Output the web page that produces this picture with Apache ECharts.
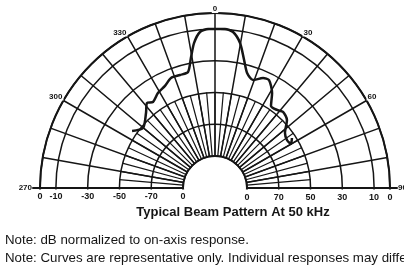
<!DOCTYPE html>
<html>
<head>
<meta charset="utf-8">
<script src="https://cdn.jsdelivr.net/npm/echarts@6/dist/echarts.min.js"></script>
<style>html,body{margin:0;padding:0;background:#fff}#main{width:404px;height:271px}</style>
</head>
<body>
<div id="main"></div>
<script>
// beam pattern: angle (deg, 0 = on-axis) and level (dB)
var angles = [-55.5, -50.2, -42.6, -38.7, -35.8, -31.0, -26.1, -21.8, -17.2, -13.1, -10.5, -8.2, -5.5, -2.5, 0, 3.6, 6.6, 9.8, 12.8, 15.6, 19.4, 23.6, 26.6, 31.0, 34.3, 38.5, 41.8, 46.6, 51.8, 56.3, 59.9, 57.0];
var levels = [-46.8, -51.2, -46.0, -41.6, -43.4, -40.4, -38.6, -35.6, -35.7, -35.2, -26.9, -17.9, -11.5, -10.0, -10.1, -9.9, -11.3, -17.5, -27.5, -35.0, -38.1, -34.6, -34.2, -40.4, -47.6, -47.4, -45.9, -47.8, -54.1, -55.7, -54.9, -52.4];

var radialTicks = [-90, -70, -50, -30, -10, 0];
var leftLabels = ['0', '-70', '-50', '-30', '-10', '0'];
var rightLabels = ['0', '70', '50', '30', '10', '0'];
var angleTicks = [-90, -60, -30, 0, 30, 60, 90];
var angleLabels = ['270', '300', '330', '0', '30', '60', '90'];

var ink = '#151515';
var center = [215, 188];
var font = 'Liberation Sans';

function pick(ticks, labels, keep) {
    return function (v) {
        var i = ticks.indexOf(Math.round(v));
        if (i < 0 || (keep && !keep(ticks[i]))) return '';
        return labels[i];
    };
}

// full circle, 0 at the top, clockwise; the lower half gets covered by a white box
function angleAx(idx, interval, z, extra) {
    var ax = {
        polarIndex: idx, type: 'value', min: -180, max: 180, interval: interval,
        startAngle: 270, clockwise: true, z: z,
        axisLine: { show: false }, axisTick: { show: false },
        axisLabel: { show: false }, splitLine: { show: false }
    };
    return Object.assign(ax, extra || {});
}

function angleLabel(margin, keep) {
    return {
        margin: margin, color: ink, fontSize: 8, fontWeight: 'bold', fontFamily: font,
        backgroundColor: '#fff', padding: [0, 1],
        formatter: pick(angleTicks, angleLabels, keep)
    };
}

function radialLabel(margin, labels) {
    return {
        margin: margin, color: ink, fontSize: 9, fontWeight: 'bold', fontFamily: font,
        formatter: pick(radialTicks, labels)
    };
}

var hidden = { show: false };
var baseLine = { show: true, lineStyle: { color: ink, width: 2 } };

var myChart = echarts.init(document.getElementById('main'));

var option = {
    animation: false,
    polar: [
        { center: center, radius: [32, 175] },   // grid + curve
        { center: center, radius: [32, 96] },    // fine spokes near the hub
        { center: center, radius: [32, 175] },   // left radial labels
        { center: center, radius: [32, 175] },   // right radial labels
        { center: center, radius: [32, 175] },   // angle labels
        { center: center, radius: [32, 175] },   // 270 / 90 labels
        { center: center, radius: [32, 182] },   // left base line
        { center: center, radius: [32, 182] }    // right base line
    ],
    angleAxis: [
        angleAx(0, 30, 1, {
            axisLine: { show: true, lineStyle: { color: ink, width: 2 } },
            splitLine: { show: true, lineStyle: { color: ink, width: 1.5 } },
            minorTick: { show: false, splitNumber: 3 },
            minorSplitLine: { show: true, lineStyle: { color: ink, width: 1.5 } }
        }),
        angleAx(1, 5, 1, {
            splitLine: { show: true, lineStyle: { color: ink, width: 1.2 } }
        }),
        angleAx(2, 30, 60, { startAngle: 180 }),
        angleAx(3, 30, 60, { startAngle: 0 }),
        angleAx(4, 30, 60, { axisLabel: angleLabel(0, function (t) { return Math.abs(t) !== 90; }) }),
        angleAx(5, 30, 60, { axisLabel: angleLabel(7, function (t) { return Math.abs(t) === 90; }) }),
        angleAx(6, 30, 60, { startAngle: 180 }),
        angleAx(7, 30, 60, { startAngle: 0 })
    ],
    radiusAxis: [
        {
            polarIndex: 0, type: 'value', min: -90, max: 0, interval: 20, z: 1,
            axisLine: hidden, axisTick: hidden, axisLabel: hidden,
            splitLine: { show: true, lineStyle: { color: ink, width: 1.5 } }
        },
        { polarIndex: 1, type: 'value', min: -90, max: -50, show: false },
        {
            polarIndex: 2, type: 'value', min: -90, max: 0, interval: 20, z: 60,
            axisLine: hidden, axisTick: hidden, splitLine: hidden,
            axisLabel: radialLabel(4, leftLabels)
        },
        {
            polarIndex: 3, type: 'value', min: -90, max: 0, interval: 20, z: 60,
            axisLine: hidden, axisTick: hidden, splitLine: hidden,
            axisLabel: radialLabel(-14, rightLabels)
        },
        { polarIndex: 4, type: 'value', min: -90, max: 0, show: false },
        { polarIndex: 5, type: 'value', min: -90, max: 0, show: false },
        {
            polarIndex: 6, type: 'value', min: -90, max: 0, z: 60,
            axisLine: baseLine, axisTick: hidden, axisLabel: hidden, splitLine: hidden
        },
        {
            polarIndex: 7, type: 'value', min: -90, max: 0, z: 60,
            axisLine: baseLine, axisTick: hidden, axisLabel: hidden, splitLine: hidden
        }
    ],
    series: [{
        type: 'line',
        coordinateSystem: 'polar',
        polarIndex: 0,
        data: angles.map(function (a, i) { return [levels[i], a]; }),
        symbol: 'none',
        smooth: 0.25,
        lineStyle: { color: ink, width: 2.5 },
        z: 5
    }],
    graphic: [
        {
            type: 'rect', z: 50, silent: true,
            shape: { x: 0, y: 189.5, width: 404, height: 90 },
            style: { fill: '#fff' }
        },
        {
            type: 'text', x: 233, y: 206, z: 70,
            style: { text: 'Typical Beam Pattern At 50 kHz', font: 'bold 13px "Liberation Sans"', fill: ink, align: 'center' }
        },
        {
            type: 'text', x: 5, y: 234, z: 70,
            style: { text: 'Note: dB normalized to on-axis response.', font: '13.3px "Liberation Sans"', fill: ink }
        },
        {
            type: 'text', x: 5, y: 252, z: 70,
            style: { text: 'Note: Curves are representative only. Individual responses may differ.', font: '13.3px "Liberation Sans"', fill: ink }
        }
    ]
};

myChart.setOption(option);
</script>
</body>
</html>
